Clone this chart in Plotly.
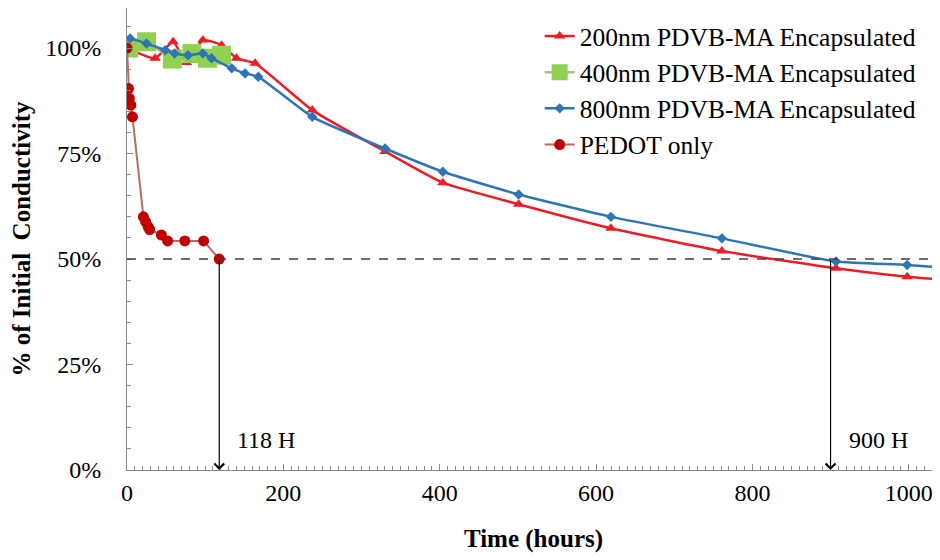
import plotly.graph_objects as go

# ---- data (hours, fraction of initial conductivity) ----
h200 = [0, 36, 59, 76, 97, 121, 140, 164, 237, 330, 404, 501, 619, 761, 907, 998, 1100]
v200 = [1.00, 0.976, 1.015, 0.966, 1.019, 1.007, 0.976, 0.964, 0.853, 0.755, 0.681, 0.630, 0.573, 0.519, 0.478, 0.458, 0.443]

h400 = [2, 25, 58, 83, 103, 121]
v400 = [1.00, 1.015, 0.974, 0.987, 0.976, 0.983]

h800 = [4, 25, 49, 61, 78, 97, 108, 134, 151, 168, 237, 330, 404, 501, 619, 761, 907, 998, 1100]
v800 = [1.023, 1.011, 0.995, 0.987, 0.983, 0.987, 0.976, 0.952, 0.940, 0.932, 0.837, 0.762, 0.707, 0.653, 0.600, 0.549, 0.494, 0.486, 0.472]

hped = [0, 2, 3, 5, 7, 21, 24, 27, 29, 44, 52, 74, 98, 118]
vped = [1.00, 0.904, 0.881, 0.865, 0.837, 0.600, 0.588, 0.577, 0.570, 0.557, 0.543, 0.543, 0.543, 0.500]

names = ["200nm PDVB-MA Encapsulated", "400nm PDVB-MA Encapsulated",
         "800nm PDVB-MA Encapsulated", "PEDOT only"]
yticks = [0, 0.25, 0.5, 0.75, 1.0]
ytext = ["0%", "25%", "50%", "75%", "100%"]
xticks = [0, 200, 400, 600, 800, 1000]
half_life = [118, 900]
half_text = ["118 H", "900 H"]

SERIF = "Liberation Serif, Times New Roman, serif"

fig = go.Figure()
fig.add_trace(go.Scatter(x=h200, y=v200, name=names[0], mode="lines+markers",
                         line=dict(color="#EE1C25", width=2.5, shape="spline", smoothing=0.5),
                         marker=dict(symbol="triangle-up", size=10, color="#EE1C25"),
                         legendgroup="a"))
fig.add_trace(go.Scatter(x=h400, y=v400, name=names[1], mode="lines+markers",
                         line=dict(color="#A9C47F", width=2.5),
                         marker=dict(symbol="square", size=19, color="#92D050"),
                         legendgroup="b"))
fig.add_trace(go.Scatter(x=h800, y=v800, name=names[2], mode="lines+markers",
                         line=dict(color="#2E75B6", width=2.5, shape="spline", smoothing=0.5),
                         marker=dict(symbol="diamond", size=8, color="#2E75B6"),
                         legendgroup="c"))
fig.add_trace(go.Scatter(x=hped, y=vped, name=names[3], mode="lines+markers",
                         line=dict(color="#B86A66", width=2),
                         marker=dict(symbol="circle", size=11, color="#C00000"),
                         legendgroup="d"))

# 50% dashed reference line
fig.add_shape(type="line", xref="paper", yref="y", x0=0, x1=1, y0=0.5, y1=0.5,
              line=dict(color="#404040", width=1.5, dash="dash"))

for hx, txt in zip(half_life, half_text):
    fig.add_annotation(x=hx, y=0, ax=hx, ay=0.5, xref="x", yref="y", axref="x", ayref="y",
                       text="", showarrow=True, arrowhead=4, arrowsize=1.6,
                       arrowwidth=1.2, arrowcolor="black")
    fig.add_annotation(x=hx, y=0.07, xref="x", yref="y", text=txt, showarrow=False,
                       xanchor="left", xshift=16, font=dict(family=SERIF, size=24, color="black"))

fig.update_layout(
    width=940, height=560,
    margin=dict(l=119, r=8, t=0, b=98),
    plot_bgcolor="white", paper_bgcolor="white",
    font=dict(family=SERIF, size=24, color="black"),
    showlegend=True,
    legend=dict(x=0.5076, y=0.9892, xanchor="left", yanchor="top",
                font=dict(family=SERIF, size=25.5, color="black"),
                tracegroupgap=0, bgcolor="rgba(255,255,255,0)", itemwidth=30),
    xaxis=dict(range=[0, 1040], tickvals=xticks, showgrid=False, zeroline=False,
               showline=True, linecolor="#888888", linewidth=1,
               ticks="inside", ticklen=6, tickcolor="#888888",
               minor=dict(dtick=10, ticks="inside", ticklen=4, tickcolor="#888888"),
               ticklabelstandoff=1, automargin=False,
               tickfont=dict(family=SERIF, size=24),
               title=dict(text="<b>Time (hours)</b>", font=dict(family=SERIF, size=25), standoff=24)),
    yaxis=dict(range=[0, 1.095], tickvals=yticks, ticktext=ytext, showgrid=False, zeroline=False,
               showline=True, linecolor="#888888", linewidth=1,
               ticks="inside", ticklen=6, tickcolor="#888888",
               minor=dict(dtick=0.05, ticks="inside", ticklen=4, tickcolor="#888888"),
               ticklabelstandoff=20, automargin=False,
               tickfont=dict(family=SERIF, size=24),
               title=dict(text="<b>% of Initial  Conductivity</b>", font=dict(family=SERIF, size=25), standoff=8)),
)

fig.write_html("out.html")
